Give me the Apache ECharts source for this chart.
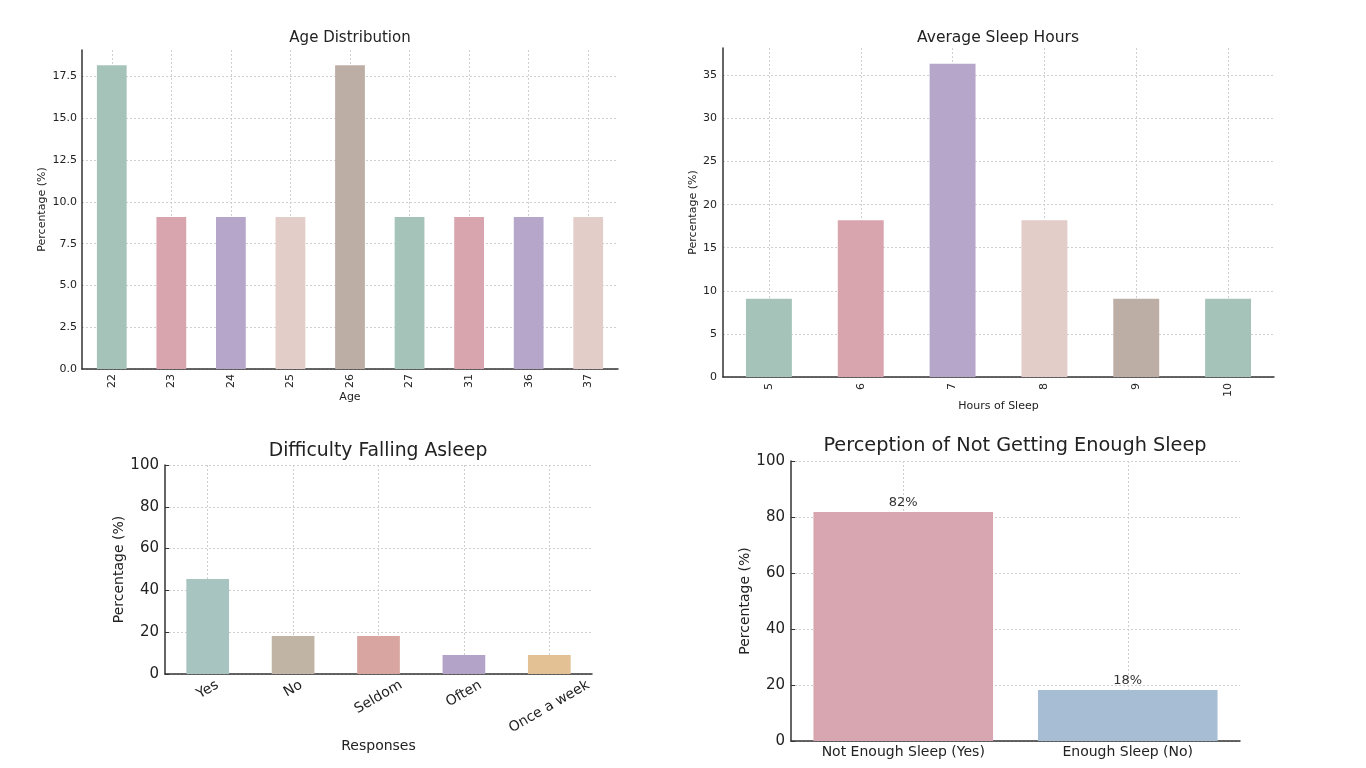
<!DOCTYPE html>
<html>
<head>
<meta charset="utf-8">
<script src="https://cdn.jsdelivr.net/npm/echarts@6/dist/echarts.min.js"></script>
<style>
html,body{margin:0;padding:0;background:#fff;}
#main{width:1366px;height:768px;}
</style>
</head>
<body>
<div id="main"></div>
<script>
// ---- Data ----
const ageCategories = ['22','23','24','25','26','27','31','36','37'];
const ageValues = [18.18, 9.09, 9.09, 9.09, 18.18, 9.09, 9.09, 9.09, 9.09];

const sleepCategories = ['5','6','7','8','9','10'];
const sleepValues = [9.09, 18.18, 36.36, 18.18, 9.09, 9.09];

const difficultyCategories = ['Yes','No','Seldom','Often','Once a week'];
const difficultyValues = [45.45, 18.18, 18.18, 9.09, 9.09];

const perceptionCategories = ['Not Enough Sleep (Yes)','Enough Sleep (No)'];
const perceptionValues = [81.82, 18.18];
const perceptionLabels = ['82%','18%'];

// ---- Styles ----
const FONT = 'DejaVu Sans';
const cTeal = '#a6c3ba', cPink = '#d8a4ae', cPurple = '#b6a6c9', cLight = '#e2cdc8', cBrown = '#bdaea5';
const ageColors = [cTeal, cPink, cPurple, cLight, cBrown, cTeal, cPink, cPurple, cLight];
const sleepColors = [cTeal, cPink, cPurple, cLight, cBrown, cTeal];
const diffColors = ['#a8c4c0', '#c0b4a4', '#d9a5a0', '#b4a3c8', '#e4c195'];
const percColors = ['#d8a6b0', '#a7bdd3'];

const gridLine = {show: true, lineStyle: {color: '#cfcfcf', type: [2, 2], width: 1}};
const axisLine = {show: true, lineStyle: {color: '#333', width: 1.5}};

function items(vals, cols) {
  return vals.map((v, i) => ({value: v, itemStyle: {color: cols[i]}}));
}

// center rotated labels under their tick (matplotlib ha=center, bbox top near axis)
const ctx = document.createElement('canvas').getContext('2d');
ctx.font = '14px ' + FONT;
function rotatedItem(label) {
  const w = ctx.measureText(label).width, h = 14;
  const s = Math.sin(Math.PI / 6), c = Math.cos(Math.PI / 6);
  const d = (w * s + h * c) / 2;
  const L = (c * d) / 1.5;
  return {value: label, textStyle: {align: 'center', verticalAlign: 'top', lineHeight: L, padding: [0, d, 0, 0]}};
}

const option = {
  animation: false,
  textStyle: {fontFamily: FONT, color: '#222'},
  graphic: [
    {type: 'text', x: 350, y: 38, style: {text: 'Age Distribution', font: '15px ' + FONT, fill: '#222', textAlign: 'center', textVerticalAlign: 'middle'}},
    {type: 'text', x: 998, y: 38, style: {text: 'Average Sleep Hours', font: '15.5px ' + FONT, fill: '#222', textAlign: 'center', textVerticalAlign: 'middle'}},
    {type: 'text', x: 378, y: 451, style: {text: 'Difficulty Falling Asleep', font: '18.8px ' + FONT, fill: '#222', textAlign: 'center', textVerticalAlign: 'middle'}},
    {type: 'text', x: 1015, y: 446, style: {text: 'Perception of Not Getting Enough Sleep', font: '19.3px ' + FONT, fill: '#222', textAlign: 'center', textVerticalAlign: 'middle'}}
  ],
  grid: [
    {left: 82, top: 50, width: 536, height: 319},
    {left: 723, top: 48, width: 551, height: 329},
    {left: 165, top: 465, width: 427, height: 209},
    {left: 791, top: 461, width: 449, height: 280}
  ],
  xAxis: [
    {gridIndex: 0, type: 'category', data: ageCategories, axisLine: axisLine,
     axisTick: {show: false}, splitLine: Object.assign({alignWithLabel: true}, gridLine),
     axisLabel: {rotate: 90, interval: 0, fontSize: 11, color: '#222', margin: 5},
     name: 'Age', nameLocation: 'middle', nameGap: 22, nameTextStyle: {fontSize: 11, color: '#222'}},
    {gridIndex: 1, type: 'category', data: sleepCategories, axisLine: axisLine,
     axisTick: {show: false}, splitLine: Object.assign({alignWithLabel: true}, gridLine),
     axisLabel: {rotate: 90, interval: 0, fontSize: 11, color: '#222', margin: 6},
     name: 'Hours of Sleep', nameLocation: 'middle', nameGap: 22, nameTextStyle: {fontSize: 11, color: '#222'}},
    {gridIndex: 2, type: 'category', data: difficultyCategories.map(rotatedItem), axisLine: axisLine,
     axisTick: {show: true, inside: true, alignWithLabel: true, length: 4, lineStyle: {color: '#333'}},
     splitLine: Object.assign({alignWithLabel: true}, gridLine),
     axisLabel: {rotate: 30, interval: 0, fontSize: 14, color: '#222', margin: 4, formatter: v => '\n' + v},
     name: 'Responses', nameLocation: 'middle', nameGap: 65, nameTextStyle: {fontSize: 14, color: '#222'}},
    {gridIndex: 3, type: 'category', data: perceptionCategories, axisLine: axisLine,
     axisTick: {show: true, inside: true, alignWithLabel: true, length: 4, lineStyle: {color: '#333'}},
     splitLine: Object.assign({alignWithLabel: true}, gridLine),
     axisLabel: {interval: 0, fontSize: 14, color: '#222', margin: 4}}
  ],
  yAxis: [
    {gridIndex: 0, type: 'value', min: 0, max: 19.09, interval: 2.5, axisLine: axisLine,
     axisTick: {show: false}, splitLine: Object.assign({showMaxLine: false}, gridLine),
     axisLabel: {showMaxLabel: false, fontSize: 11, color: '#222', margin: 5, formatter: v => v.toFixed(1)},
     name: 'Percentage (%)', nameLocation: 'middle', nameGap: 34, nameTextStyle: {fontSize: 11, color: '#222'}},
    {gridIndex: 1, type: 'value', min: 0, max: 38.18, interval: 5, axisLine: axisLine,
     axisTick: {show: false}, splitLine: Object.assign({showMaxLine: false}, gridLine),
     axisLabel: {showMaxLabel: false, fontSize: 11, color: '#222', margin: 6},
     name: 'Percentage (%)', nameLocation: 'middle', nameGap: 24, nameTextStyle: {fontSize: 11, color: '#222'}},
    {gridIndex: 2, type: 'value', min: 0, max: 100, interval: 20, axisLine: axisLine,
     axisTick: {show: true, inside: true, length: 4, lineStyle: {color: '#333'}}, splitLine: gridLine,
     axisLabel: {fontSize: 15, color: '#222', margin: 6},
     name: 'Percentage (%)', nameLocation: 'middle', nameGap: 37, nameTextStyle: {fontSize: 14, color: '#222'}},
    {gridIndex: 3, type: 'value', min: 0, max: 100, interval: 20, axisLine: axisLine,
     axisTick: {show: true, inside: true, length: 4, lineStyle: {color: '#333'}}, splitLine: gridLine,
     axisLabel: {fontSize: 15, color: '#222', margin: 6},
     name: 'Percentage (%)', nameLocation: 'middle', nameGap: 33, nameTextStyle: {fontSize: 14, color: '#222'}}
  ],
  series: [
    {type: 'bar', xAxisIndex: 0, yAxisIndex: 0, barWidth: '50%', data: items(ageValues, ageColors)},
    {type: 'bar', xAxisIndex: 1, yAxisIndex: 1, barWidth: '50%', data: items(sleepValues, sleepColors)},
    {type: 'bar', xAxisIndex: 2, yAxisIndex: 2, barWidth: '50%', data: items(difficultyValues, diffColors)},
    {type: 'bar', xAxisIndex: 3, yAxisIndex: 3, barWidth: '80%', data: items(perceptionValues, percColors),
     label: {show: true, position: 'top', distance: 3, fontSize: 13, color: '#333', fontFamily: FONT,
             formatter: p => perceptionLabels[p.dataIndex]}}
  ]
};

const chart = echarts.init(document.getElementById('main'));
chart.setOption(option);
</script>
</body>
</html>
